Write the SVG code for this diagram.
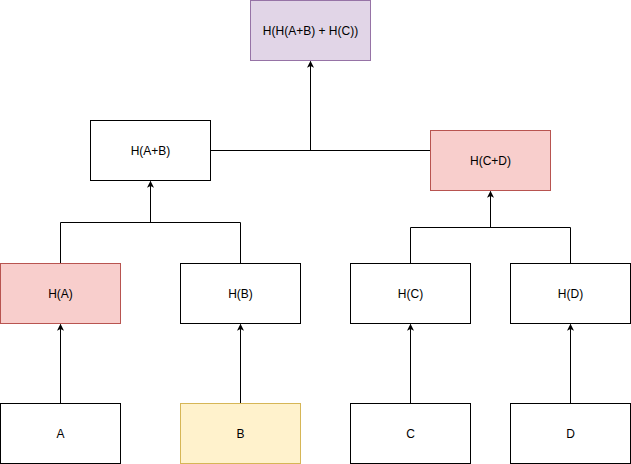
<svg xmlns="http://www.w3.org/2000/svg" width="631" height="464" viewBox="0 0 631 464">
<defs>
<style>
.n{stroke:#000;stroke-width:1;fill:#fff}
.pink{fill:#f8cecc;stroke:#b85450}
.purple{fill:#e1d5e7;stroke:#9673a6}
.yellow{fill:#fff2cc;stroke:#d6b656}
text{font-family:"Liberation Sans",Arial,Helvetica,sans-serif;font-size:12px;fill:#000;text-anchor:middle;dominant-baseline:central}
.c{fill:none;stroke:#000;stroke-width:1}
</style>
<marker id="ah" viewBox="0 0 10 10" refX="9" refY="5" markerWidth="7" markerHeight="7" orient="auto" markerUnits="userSpaceOnUse">
<path d="M0,0 L10,5 L0,10 L2.5,5 Z" fill="#000"/>
</marker>
</defs>
<rect width="631" height="464" fill="#fff"/>
<g id="connectors">
<path class="c" d="M60.5,403 V324.5" marker-end="url(#ah)"/>
<path class="c" d="M240.5,403 V324.5" marker-end="url(#ah)"/>
<path class="c" d="M410.5,403 V324.5" marker-end="url(#ah)"/>
<path class="c" d="M570.5,403 V324.5" marker-end="url(#ah)"/>
<path class="c" d="M60.5,263 V222.5 H240.5 V263"/>
<path class="c" d="M150.5,222.5 V181.5" marker-end="url(#ah)"/>
<path class="c" d="M410.5,263 V227.5 H570.5 V263"/>
<path class="c" d="M490.5,227.5 V191.5" marker-end="url(#ah)"/>
<path class="c" d="M210.5,150.5 H430.5"/>
<path class="c" d="M310.5,150.5 V61.5" marker-end="url(#ah)"/>
</g>
<g id="hhabc"><rect class="n purple" x="250.5" y="0.5" width="120" height="60"/><text x="310.5" y="30.5">H(H(A+B) + H(C))</text></g>
<g id="hab"><rect class="n" x="90.5" y="120.5" width="120" height="60"/><text x="150.5" y="150.5">H(A+B)</text></g>
<g id="hcd"><rect class="n pink" x="430.5" y="130.5" width="120" height="60"/><text x="490.5" y="160.5">H(C+D)</text></g>
<g id="ha"><rect class="n pink" x="0.5" y="263.5" width="120" height="60"/><text x="60.5" y="293.5">H(A)</text></g>
<g id="hb"><rect class="n" x="180.5" y="263.5" width="120" height="60"/><text x="240.5" y="293.5">H(B)</text></g>
<g id="hc"><rect class="n" x="350.5" y="263.5" width="120" height="60"/><text x="410.5" y="293.5">H(C)</text></g>
<g id="hd"><rect class="n" x="510.5" y="263.5" width="120" height="60"/><text x="570.5" y="293.5">H(D)</text></g>
<g id="a"><rect class="n" x="0.5" y="403.5" width="120" height="60"/><text x="60.5" y="433.5">A</text></g>
<g id="b"><rect class="n yellow" x="180.5" y="403.5" width="120" height="60"/><text x="240.5" y="433.5">B</text></g>
<g id="c"><rect class="n" x="350.5" y="403.5" width="120" height="60"/><text x="410.5" y="433.5">C</text></g>
<g id="d"><rect class="n" x="510.5" y="403.5" width="120" height="60"/><text x="570.5" y="433.5">D</text></g>
</svg>
